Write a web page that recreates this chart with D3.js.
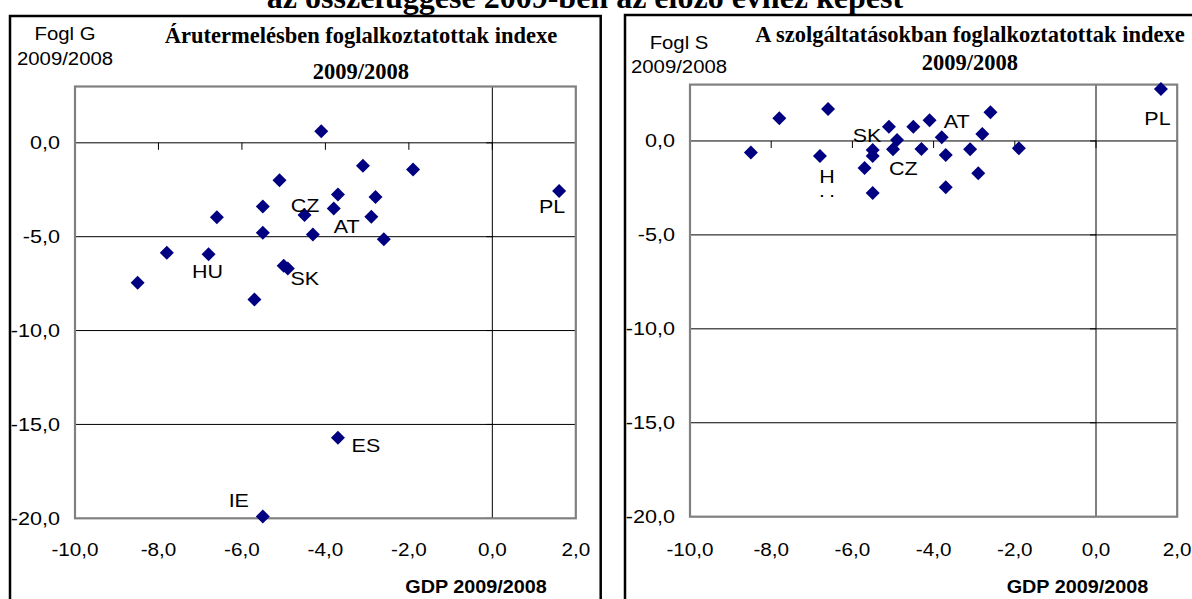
<!DOCTYPE html>
<html>
<head>
<meta charset="utf-8">
<script src="https://cdn.jsdelivr.net/npm/d3@7"></script>
<style>
  html, body { margin: 0; padding: 0; background: #fff; }
  svg { display: block; }
</style>
</head>
<body>
<svg id="chart" width="1192" height="599"></svg>
<script>
// ---------------- DATA ----------------
const mainTitle = "az összefüggése 2009-ben az előző évhez képest";
const titleG = ["Árutermelésben foglalkoztatottak indexe", "2009/2008"];
const titleS = ["A szolgáltatásokban foglalkoztatottak indexe", "2009/2008"];
const yLabelG = ["Fogl G", "2009/2008"];
const yLabelS = ["Fogl S", "2009/2008"];
const xLabel = "GDP 2009/2008";

// GDP index change 2009/2008 (x), shared by both panels
const gdp   = [-8.5, -7.8, -6.8, -6.6, -5.7, -5.5, -5.5, -5.5, -5.1, -5.0, -4.9, -4.5,
               -4.3, -4.1, -3.8, -3.7, -3.7, -3.1, -2.9, -2.8, -2.6, -1.9, 1.6];
// Employment in goods production (left panel)
const foglG = [-7.45, -5.86, -5.93, -3.97, -8.34, -3.39, -4.79, -19.91, -1.99, -6.55, -6.69, -3.85,
               -4.88, 0.62, -3.50, -2.75, -15.71, -1.22, -3.94, -2.89, -5.14, -1.42, -2.57];
// Employment in services (right panel)
const foglS = [-0.62, 1.21, -0.80, 1.70, -1.44, -0.48, -2.77, -0.80, 0.76, -0.44, 0.05, 0.75,
               -0.43, 1.10, 0.20, -0.75, -2.47, -0.44, -1.72, 0.37, 1.53, -0.39, 2.77];
// Country codes of the labelled points
const codes = ["", "", "HU", "", "", "", "", "IE", "", "", "SK", "CZ",
               "", "", "AT", "", "ES", "", "", "", "", "", "PL"];

const xTicks = [-10, -8, -6, -4, -2, 0, 2];
const yTicks = [-20, -15, -10, -5, 0];
const xDomain = [-10, 2];
const yDomain = [-20, 3];

// ---------------- STYLE / LAYOUT ----------------
const SANS = "'Liberation Sans', Arial, Helvetica, sans-serif";
const SERIF = "'Liberation Serif', 'Times New Roman', Times, serif";
const MARK = "#000080";

// label placement (pixel offsets from the labelled point; text centre / baseline)
const labelPosG = { CZ: [0.5, -3], AT: [13, 24], HU: [-1, 24], SK: [17, 17], PL: [-7, 22], ES: [28, 14], IE: [-24, -10] };
const labelPosS = { PL: [-3.5, 36], AT: [15, -9], SK: [-30, 2], CZ: [-10, 48], HU: [7, 27] };

const panels = [
  { frame: [10, 16, 600.7, 640], plot: [75, 86.5, 575.8, 518.3], values: foglG,
    title: titleG, titleX: 361, titleY: [42.5, 79], ylab: yLabelG, ylabX: 65, ylabY: [40, 65],
    labelPos: labelPosG, wrapHU: false },
  { frame: [625, 15, 1196, 640], plot: [690, 84.6, 1177.2, 516.7], values: foglS,
    title: titleS, titleX: 970, titleY: [41.7, 70], ylab: yLabelS, ylabX: 679, ylabY: [49, 72.7],
    labelPos: labelPosS, wrapHU: true }
];

const svg = d3.select("#chart");
const loc = d3.formatLocale({ decimal: ",", thousands: " ", grouping: [3], currency: ["", ""], minus: "-" });
const fmt = loc.format(".1f");

function stext(g, x, y, str, opts) {
  const o = Object.assign({ size: 18, sx: 1.13, anchor: "middle", weight: "normal", family: SANS }, opts || {});
  return g.append("text")
    .attr("transform", `translate(${x},${y}) scale(${o.sx},1)`)
    .attr("text-anchor", o.anchor)
    .attr("font-family", o.family)
    .attr("font-size", o.size)
    .attr("font-weight", o.weight)
    .attr("fill", "#000")
    .text(str);
}

// main title (clipped at top of the page, as in the original)
svg.append("text")
  .attr("x", 585).attr("y", 8)
  .attr("text-anchor", "middle")
  .attr("font-family", SERIF).attr("font-weight", "bold").attr("font-size", 32)
  .text(mainTitle);

panels.forEach((p, pi) => {
  const g = svg.append("g");
  const [fx0, fy0, fx1, fy1] = p.frame;
  const [px0, py0, px1, py1] = p.plot;

  // outer frame
  g.append("rect").attr("x", fx0).attr("y", fy0).attr("width", fx1 - fx0).attr("height", fy1 - fy0)
    .attr("fill", "#fff").attr("stroke", "#000").attr("stroke-width", 2.5);

  const x = d3.scaleLinear().domain(xDomain).range([px0, px1]);
  const y = d3.scaleLinear().domain(yDomain).range([py1, py0]);

  // horizontal gridlines
  g.append("g").selectAll("line").data(yTicks.filter(v => v > yDomain[0]))
    .join("line")
    .attr("x1", px0).attr("x2", px1)
    .attr("y1", d => y(d)).attr("y2", d => y(d))
    .attr("stroke", "#000").attr("stroke-width", 1);

  // vertical axis at x = 0 with ticks to the left
  g.append("line").attr("x1", x(0)).attr("x2", x(0)).attr("y1", py0).attr("y2", py1)
    .attr("stroke", "#000").attr("stroke-width", 1);
  g.append("g").selectAll("line").data(yTicks).join("line")
    .attr("x1", x(0) - 6).attr("x2", x(0))
    .attr("y1", d => y(d)).attr("y2", d => y(d))
    .attr("stroke", "#000").attr("stroke-width", 1);

  // horizontal axis at y = 0 with ticks downward
  g.append("g").selectAll("line").data(xTicks.filter(v => v > xDomain[0] && v < xDomain[1]))
    .join("line")
    .attr("x1", d => x(d)).attr("x2", d => x(d))
    .attr("y1", y(0)).attr("y2", y(0) + 7)
    .attr("stroke", "#000").attr("stroke-width", 1);

  // plot area border
  g.append("rect").attr("x", px0).attr("y", py0).attr("width", px1 - px0).attr("height", py1 - py0)
    .attr("fill", "none").attr("stroke", "#808080").attr("stroke-width", 2.2);

  // y tick labels
  yTicks.forEach(v => stext(g, px0 - 15, y(v) + 6.5, fmt(v), { anchor: "end", sx: 1.2 }));
  // x tick labels
  xTicks.forEach(v => stext(g, x(v), 555.5, fmt(v), { sx: 1.15 }));

  // x axis title
  stext(g, px1 - 29, 592.5, xLabel, { anchor: "end", weight: "bold", sx: 1.1 });

  // y axis title
  stext(g, p.ylabX, p.ylabY[0], p.ylab[0]);
  stext(g, p.ylabX, p.ylabY[1], p.ylab[1]);

  // panel title
  p.title.forEach((t, i) => {
    g.append("text").attr("x", p.titleX).attr("y", p.titleY[i])
      .attr("text-anchor", "middle").attr("font-family", SERIF)
      .attr("font-weight", "bold").attr("font-size", 22.5).text(t);
  });

  // markers
  const r = 7;
  const pts = gdp.map((v, i) => ({ x: v, y: p.values[i], code: codes[i] }));
  g.append("g").selectAll("path").data(pts).join("path")
    .attr("transform", d => `translate(${x(d.x)},${y(d.y)})`)
    .attr("d", `M0,${-r}L${r},0L0,${r}L${-r},0Z`)
    .attr("fill", MARK);

  // data labels
  const clipId = "clipU" + pi;
  pts.filter(d => d.code && p.labelPos[d.code]).forEach(d => {
    const [dx, dy] = p.labelPos[d.code];
    const lx = x(d.x) + dx, ly = y(d.y) + dy;
    if (d.code === "HU" && p.wrapHU) {
      stext(g, lx, ly, "H", { size: 19 });
      // second line of the wrapped label is almost entirely hidden in the original
      svg.append("defs").append("clipPath").attr("id", clipId)
        .append("rect").attr("x", lx - 20).attr("y", ly + 11).attr("width", 40).attr("height", 3);
      const cg = g.append("g").attr("clip-path", `url(#${clipId})`);
      stext(cg, lx, ly + 25, "U", { size: 19 });
    } else {
      stext(g, lx, ly, d.code, { size: 19 });
    }
  });
});
</script>
</body>
</html>
